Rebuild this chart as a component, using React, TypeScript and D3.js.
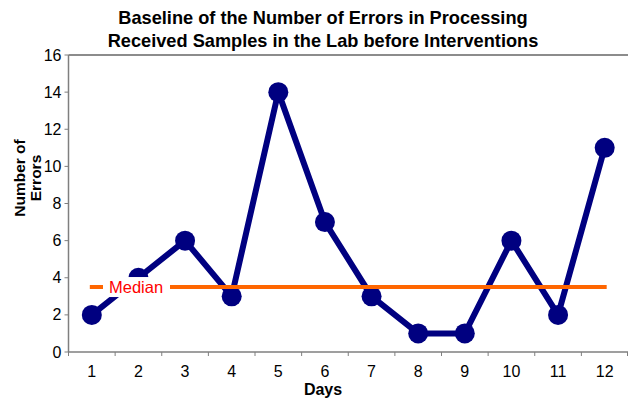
import React from "react";
import * as d3 from "d3";

const days = ["1", "2", "3", "4", "5", "6", "7", "8", "9", "10", "11", "12"];
const errors = [2, 4, 6, 3, 14, 7, 3, 1, 1, 6, 2, 11];
const medianValue = 3.5;
const yTicks = [0, 2, 4, 6, 8, 10, 12, 14, 16];
const titleLines = ["Baseline of the Number of Errors in Processing", "Received Samples in the Lab before Interventions"];

export default function App() {
  const W = 628, H = 399;
  const left = 68.5, right = 628, top = 55, bottom = 352;
  const x = d3.scaleBand<string>().domain(days).range([left, right]);
  const y = d3.scaleLinear().domain([0, 16]).range([bottom, top]);
  const cx = (d: string) => (x(d) as number) + x.bandwidth() / 2;
  const line = d3.line<number>().x((_, i) => cx(days[i])).y((v) => y(v));
  const font = "Liberation Sans, Arial, sans-serif";
  const boundaries = days.map((d) => x(d) as number).concat([right - 0.5]);
  const medStart = cx(days[0]) - 2;
  const medEnd = cx(days[11]) + 2;
  return (
    <svg width={W} height={H} style={{ position: "absolute", left: 0, top: 0 }} fontFamily={font}>
      <rect width={W} height={H} fill="#fff" />
      {titleLines.map((t, i) => (
        <text key={i} x={323} y={24 + i * 22.5} textAnchor="middle" fontSize={18.2} fontWeight="bold">{t}</text>
      ))}
      <line x1={left} x2={right} y1={y(16)} y2={y(16)} stroke="#8c8c8c" strokeWidth={2} />
      <line x1={left} x2={left} y1={top} y2={bottom} stroke="#7f7f7f" strokeWidth={1.5} />
      <line x1={left} x2={right} y1={bottom} y2={bottom} stroke="#7f7f7f" strokeWidth={1.5} />
      {yTicks.map((t) => (
        <g key={t}>
          <line x1={left - 4} x2={left} y1={y(t)} y2={y(t)} stroke="#7f7f7f" />
          <text x={left - 7} y={y(t)} dy="0.35em" textAnchor="end" fontSize={16}>{t}</text>
        </g>
      ))}
      {boundaries.map((b, i) => (
        <line key={i} x1={b} x2={b} y1={bottom} y2={bottom + 4} stroke="#7f7f7f" />
      ))}
      {days.map((d) => (
        <text key={d} x={cx(d)} y={377} textAnchor="middle" fontSize={16}>{d}</text>
      ))}
      <text x={323} y={395} textAnchor="middle" fontSize={16} fontWeight="bold">Days</text>
      <text transform={`translate(27,178) rotate(-90)`} textAnchor="middle" fontSize={15.5} fontWeight="bold">
        <tspan x={0} dy={-2}>Number of</tspan>
        <tspan x={0} dy={16}>Errors</tspan>
      </text>
      <path d={line(errors) || ""} fill="none" stroke="#000080" strokeWidth={6} strokeLinejoin="round" />
      {errors.map((v, i) => (
        <circle key={i} cx={cx(days[i])} cy={y(v)} r={10} fill="#000080" />
      ))}
      <line x1={medStart} x2={medEnd} y1={y(medianValue)} y2={y(medianValue)} stroke="#ff6600" strokeWidth={4} />
      <rect x={103} y={y(medianValue) - 10} width={67} height={20} fill="#fff" />
      <text x={109} y={y(medianValue)} dy="0.36em" fontSize={16.5} fill="#ff0000">Median</text>
    </svg>
  );
}
